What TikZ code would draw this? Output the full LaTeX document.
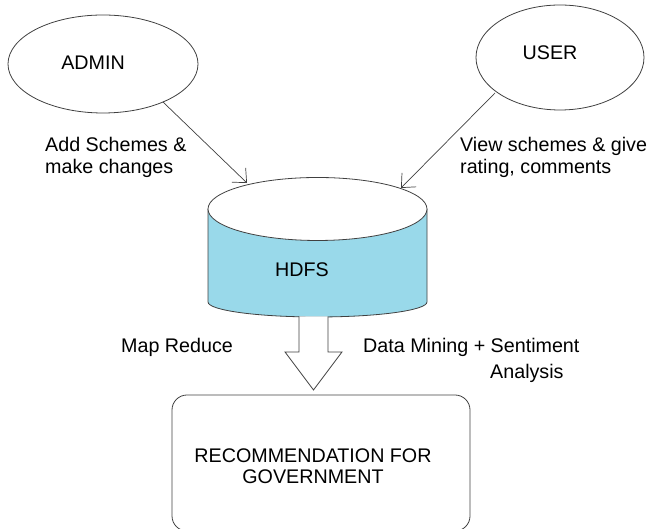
\documentclass[tikz,border=0pt]{standalone}
\usepackage{fontspec}
\setmainfont{Liberation Sans}
\usetikzlibrary{shapes.geometric,arrows.meta}
\definecolor{cylblue}{HTML}{99D9EA}
\definecolor{lineg}{HTML}{404040}
\tikzset{
  txt/.style={font=\fontsize{19.7}{21.5}\selectfont, inner sep=0pt, text=black},
  actor/.style={ellipse, draw=lineg, line width=0.8pt, fill=white, inner sep=0pt},
  flow/.style={draw=lineg, line width=0.7pt, -{Straight Barb[length=11pt,width=20pt]}},
  outl/.style={draw=lineg, line width=0.8pt}
}
\begin{document}
\begin{tikzpicture}[x=1pt,y=1pt]
\useasboundingbox (0,0) rectangle (654,529);
% actors
\node[actor, minimum width=190pt, minimum height=98pt] (admin) at (103,465) {};
\node[txt] (admintxt) at (93,466) {ADMIN};
\node[actor, minimum width=168pt, minimum height=105pt] (user) at (560,471.5) {};
\node[txt] (usertxt) at (550,476) {USER};
% cylinder (HDFS)
\fill[cylblue] (208,320) -- (208,227) arc[start angle=180,end angle=360,x radius=109.5pt,y radius=15pt] -- (427,320) -- cycle;
\draw[outl] (208,320) -- (208,227) arc[start angle=180,end angle=360,x radius=109.5pt,y radius=15pt] -- (427,320);
\draw[outl, fill=white] (317.5,320) ellipse[x radius=109.5pt, y radius=31.5pt];
\node[txt] (hdfs) at (302,259) {HDFS};
% connector endpoints
\coordinate (adminOut) at (163,427);
\coordinate (hdfsInL) at (247,346);
\coordinate (userOut) at (495,436);
\coordinate (hdfsInR) at (401,341);
\draw[flow] (adminOut) -- (hdfsInL);
\draw[flow] (userOut) -- (hdfsInR);
% labels
\node[txt, anchor=west, align=left] (lblA) at (45,371.5) {Add Schemes \&\\make changes};
\node[txt, anchor=west, align=left] (lblU) at (460,371.5) {View schemes \& give\\rating, comments};
\node[txt, anchor=west] (lblMR) at (121,182) {Map Reduce};
\node[txt, anchor=west] (lblDM) at (363,182) {Data Mining + Sentiment};
\node[txt, anchor=west] (lblAn) at (490,156) {Analysis};
% block arrow
\draw[outl, fill=white] (299,212.5) -- (299,177) -- (285,177) -- (313.5,139) -- (342,177) -- (328,177) -- (328,212.5);
% recommendation box
\draw[outl, rounded corners=15pt] (172,-2) rectangle (470,134);
\node[txt, align=center] (rec) at (313,63) {RECOMMENDATION FOR\\GOVERNMENT};
\end{tikzpicture}
\end{document}
